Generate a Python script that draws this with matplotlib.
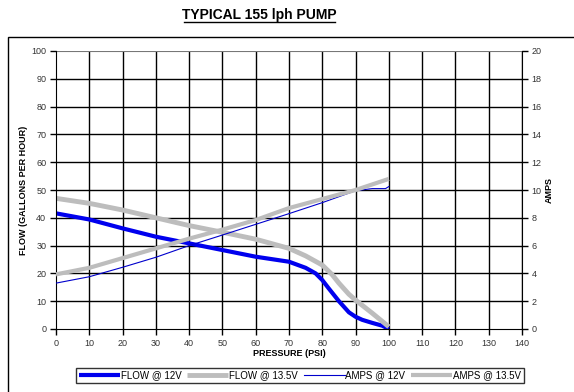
#!/usr/bin/env python3
# Curvas de una bomba de 155 lph: caudal y amperaje frente a presion

import matplotlib
matplotlib.use("Agg")
import matplotlib.pyplot as plt
from matplotlib.patches import Rectangle

plt.rcParams['font.family'] = ['Liberation Sans', 'DejaVu Sans']

# caudal @ 12V (galones por hora)
p_flow12 = [0, 10, 20, 30, 40, 50, 60, 70, 75, 78, 80, 82, 85, 88, 90, 92, 95, 98, 100]
flow12 = [41.6, 39.4, 36.2, 33.2, 30.8, 28.4, 26.0, 24.2, 22.0, 20.0, 17.6, 14.5,
          10.0, 6.0, 4.4, 3.3, 2.2, 1.2, 0.0]

# caudal @ 13.5V
p_flow135 = [0, 10, 20, 30, 40, 50, 60, 70, 75, 80, 83, 85, 88, 90, 95, 100]
flow135 = [47.0, 45.2, 42.8, 40.0, 37.2, 34.8, 32.3, 29.0, 26.3, 23.0, 19.5, 16.5,
           12.5, 10.4, 5.7, 0.8]

# amperios @ 12V
p_amps12 = [0, 10, 20, 30, 40, 50, 60, 70, 80, 90, 95, 99, 100]
amps12 = [3.3, 3.76, 4.44, 5.16, 6.0, 6.76, 7.53, 8.3, 9.09, 9.95, 10.1, 10.1, 10.25]

# amperios @ 13.5V
p_amps135 = [0, 10, 20, 30, 40, 50, 60, 70, 80, 90, 100]
amps135 = [3.93, 4.4, 5.1, 5.8, 6.5, 7.15, 7.84, 8.7, 9.35, 10.0, 10.8]

x_ticks = list(range(0, 141, 10))
y_ticks = list(range(0, 101, 10))
amp_ticks = list(range(0, 21, 2))

BLUE = '#0000ee'
GRAY = '#bdbdbd'

fig = plt.figure(figsize=(5.74, 3.92), dpi=100)

# marco exterior del grafico
fig.patches.append(Rectangle((8 / 574, -0.1), 1.0, 1 - 37 / 392 + 0.1,
                             transform=fig.transFigure, fill=False,
                             edgecolor='black', linewidth=1.0))

ax = fig.add_axes([56 / 574, 1 - 329 / 392, (522 - 56) / 574, (329 - 51) / 392])
ax2 = ax.twinx()

ax.set_xlim(0, 140)
ax.set_ylim(0, 100)
ax2.set_ylim(0, 20)
ax.set_xticks(x_ticks)
ax.set_yticks(y_ticks)
ax2.set_yticks(amp_ticks)

# rejilla
for x in x_ticks[1:]:
    ax.axvline(x, color='black', linewidth=1.0, zorder=0)
for y in y_ticks[1:-1]:
    ax.axhline(y, color='black', linewidth=1.0, zorder=0)
ax.axhline(y_ticks[-1], color='#777777', linewidth=0.8, zorder=0)

for a in (ax, ax2):
    a.spines['top'].set_visible(False)
    a.tick_params(labelsize=6.5, labelcolor='#333333', length=4, width=1.0,
                  direction='out', pad=3)
ax.spines['right'].set_visible(False)
ax2.spines['left'].set_visible(False)
ax2.spines['bottom'].set_visible(False)

l1, = ax.plot(p_flow12, flow12, color=BLUE, linewidth=3.0, solid_capstyle='butt')
l2, = ax.plot(p_flow135, flow135, color=GRAY, linewidth=3.5, solid_capstyle='butt')
l3, = ax2.plot(p_amps12, amps12, color='#0000cc', linewidth=0.8)
l4, = ax2.plot(p_amps135, amps135, color=GRAY, linewidth=3.0, solid_capstyle='butt')

ax.set_xlabel('PRESSURE (PSI)', fontsize=6.5, fontweight='bold', labelpad=1)
ax.set_ylabel('FLOW (GALLONS PER HOUR)', fontsize=6.5, fontweight='bold', labelpad=2)
ax2.set_ylabel('AMPS', fontsize=6.5, fontweight='bold', labelpad=2)

fig.text(259 / 574, 1 - 15 / 392, 'TYPICAL 155 lph PUMP', ha='center', va='center',
         fontsize=10, fontweight='bold')
# subrayado del titulo
fig.add_artist(plt.Line2D([184 / 574, 335 / 574], [1 - 22 / 392, 1 - 22 / 392],
                          transform=fig.transFigure, color='black', linewidth=1.0))

leg = fig.legend([l1, l2, l3, l4],
                 ['FLOW @ 12V', 'FLOW @ 13.5V', 'AMPS @ 12V', 'AMPS @ 13.5V'],
                 loc='center', bbox_to_anchor=(300 / 574, 1 - 375.5 / 392),
                 ncol=4, fontsize=7, handlelength=4.2, handletextpad=0.1,
                 columnspacing=0.6, borderpad=0.25, frameon=True, fancybox=False,
                 borderaxespad=0)
leg.get_frame().set_edgecolor('black')
leg.get_frame().set_linewidth(1.0)

fig.savefig('out.png', dpi=100)
